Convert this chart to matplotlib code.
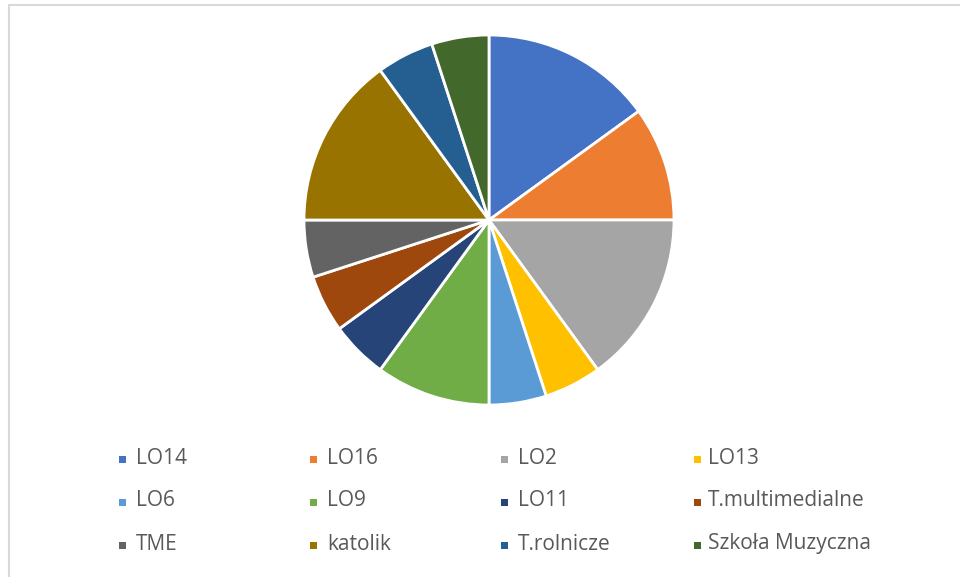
import matplotlib
matplotlib.use("Agg")
import matplotlib.pyplot as plt
from matplotlib.patches import Rectangle

categories = ["LO14", "LO16", "LO2", "LO13", "LO6", "LO9", "LO11",
              "T.multimedialne", "TME", "katolik", "T.rolnicze", "Szkoła Muzyczna"]
values = [3, 2, 3, 1, 1, 2, 1, 1, 1, 3, 1, 1]
colors = ["#4472C4", "#ED7D31", "#A5A5A5", "#FFC000", "#5B9BD5", "#70AD47",
          "#264478", "#9E480E", "#636363", "#997300", "#255E91", "#43682B"]

W, H = 960, 577
fig = plt.figure(figsize=(W / 100, H / 100), dpi=100)
fig.patch.set_facecolor("white")

# outer chart border
fig.patches.append(Rectangle((9 / W, -0.1), 1.1, 1 - 5 / H + 0.1, transform=fig.transFigure,
                             fill=False, edgecolor="#D9D9D9", linewidth=1.5))

cx, cy, r = 489, 220, 185
ax = fig.add_axes([(cx - r) / W, 1 - (cy + r) / H, 2 * r / W, 2 * r / H])
ax.pie(values, colors=colors, startangle=90, counterclock=False,
       wedgeprops=dict(edgecolor="white", linewidth=2))
ax.set_xlim(-1, 1)
ax.set_ylim(-1, 1)
ax.set_aspect("auto")
ax.axis("off")

marker_x = [122, 313, 504, 697]
text_x = [136, 327, 518, 708]
row_y = [458, 501, 544]
for i, (lab, c) in enumerate(zip(categories, colors)):
    col = i % 4
    y = row_y[i // 4]
    s = 7
    x = marker_x[col]
    fig.patches.append(Rectangle(((x - s / 2) / W, 1 - (y + 1 + s / 2) / H), s / W, s / H,
                                 transform=fig.transFigure, facecolor=c, edgecolor="none"))
    fig.text(text_x[col] / W, 1 - y / H, lab, fontsize=15, color="#595959",
             va="center", ha="left", family=["Open Sans", "DejaVu Sans"])

fig.savefig("out.png", dpi=100)
